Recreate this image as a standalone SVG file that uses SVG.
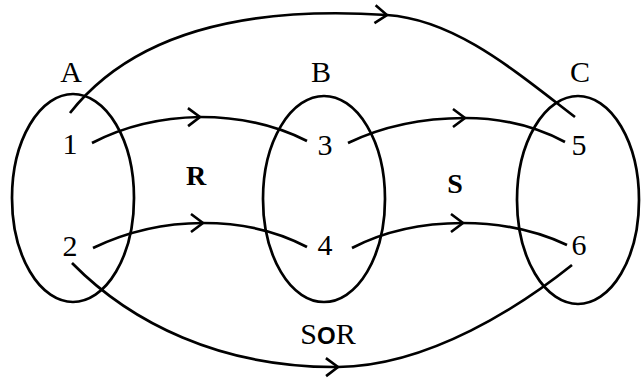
<svg xmlns="http://www.w3.org/2000/svg" width="641" height="383" viewBox="0 0 641 383">
<style>
.set{fill:none;stroke:#000;stroke-width:2.7}
.edge{fill:none;stroke:#000;stroke-width:2.7;marker-mid:url(#chev)}
.lbl{font-family:"Liberation Serif","Times New Roman",serif;font-size:30px;fill:#000;text-anchor:middle}
.rel{font-family:"Liberation Serif","Times New Roman",serif;font-size:28px;font-weight:bold;fill:#000;text-anchor:middle}
</style>
<defs>
<marker id="chev" markerUnits="userSpaceOnUse" markerWidth="30" markerHeight="30" viewBox="-15 -15 30 30" refX="0" refY="0" orient="auto">
<path d="M-12,-9 L0,0 L-12,9" fill="none" stroke="#000" stroke-width="2.6"/>
</marker>
</defs>
<rect width="641" height="383" fill="#fff"/>
<g id="setA"><ellipse class="set" cx="73" cy="198" rx="61" ry="104"/><text class="lbl" x="71" y="82">A</text></g>
<g id="setB"><ellipse class="set" cx="324" cy="199" rx="61" ry="103"/><text class="lbl" x="321" y="82">B</text></g>
<g id="setC"><ellipse class="set" cx="578" cy="200" rx="61" ry="104"/><text class="lbl" x="580" y="82">C</text></g>
<g id="n1"><text class="lbl" x="70" y="154">1</text></g>
<g id="n2"><text class="lbl" x="70" y="256">2</text></g>
<g id="n3"><text class="lbl" x="325" y="155">3</text></g>
<g id="n4"><text class="lbl" x="325" y="255">4</text></g>
<g id="n5"><text class="lbl" x="579" y="155">5</text></g>
<g id="n6"><text class="lbl" x="579" y="255">6</text></g>
<g id="connectors">
<path class="edge" d="M92,143 Q140,118 200,117 Q260,117 307,141"/>
<path class="edge" d="M93,248 Q145,223 203,223 Q262,223 307,247"/>
<path class="edge" d="M348,143 Q400,118 465,118 Q520,118 565,142"/>
<path class="edge" d="M352,248 Q400,223 463,223 Q520,223 567,245"/>
<path class="edge" d="M70,113 C130,37 235,5 387,15 C455,19.5 515,71 575,117"/>
<path class="edge" d="M72,263 C130,322 220,368 338,367 C430,366 522,305 572,265"/>
</g>
<g id="labels">
<text class="rel" x="196" y="185">R</text>
<text class="rel" x="455" y="193">S</text>
<text class="lbl" x="328" y="344" font-size="32">S<tspan font-family="Liberation Sans,Arial,sans-serif" font-weight="bold" font-size="24">O</tspan>R</text>
</g>
</svg>
